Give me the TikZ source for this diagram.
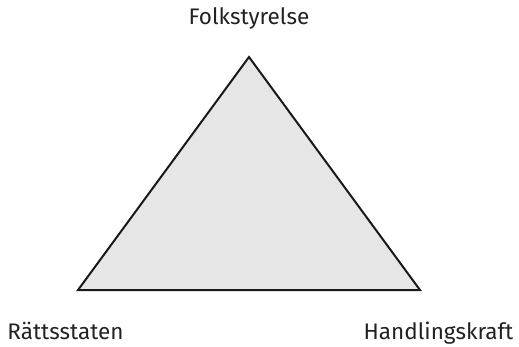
\documentclass[tikz,border=0pt]{standalone}
\usepackage{fontspec}
\setmainfont{Fira Sans}
\definecolor{textgray}{HTML}{222222}
\definecolor{trifill}{HTML}{E6E6E6}
\tikzset{
  label/.style={text=textgray, font=\fontsize{22.5}{24}\selectfont, inner sep=0pt, anchor=base},
  tri/.style={draw=black!90, line width=2pt, fill=trifill, line join=miter}
}
\begin{document}
\begin{tikzpicture}[x=1pt,y=-1pt]
	\useasboundingbox (0,0) rectangle (519,346);
	
	\coordinate (top) at (249,57);
	\coordinate (left) at (78,290);
	\coordinate (right) at (420,290);
	\draw[tri] (top)--(left)--(right)--cycle;
	
	\node[label] (folk) at (249,24) {Folkstyrelse};
	\node[label] (ratt) at (65.5,339.5) {Rättsstaten};
	\node[label] (hand) at (438.5,339.5) {Handlingskraft};
\end{tikzpicture}
\end{document}
